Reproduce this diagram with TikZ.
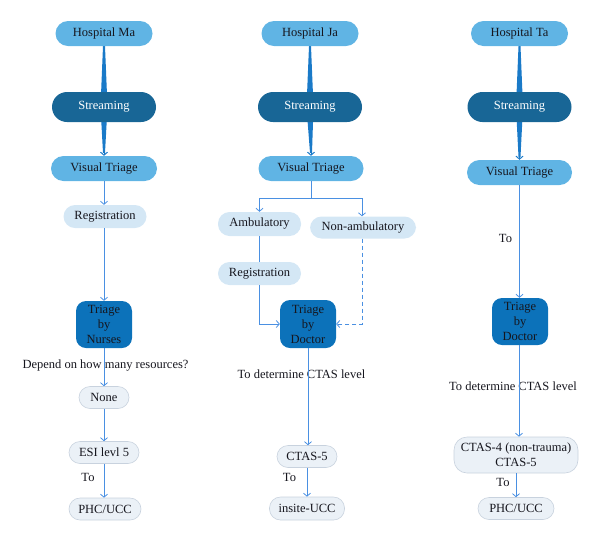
\documentclass[tikz,border=0pt]{standalone}
\usepackage{fontspec}
\setmainfont{Liberation Serif}
\usetikzlibrary{arrows.meta,backgrounds}
\definecolor{cLight}{RGB}{96,180,228}
\definecolor{cDark}{RGB}{24,102,150}
\definecolor{cMid}{RGB}{12,114,186}
\definecolor{cPale}{RGB}{212,231,245}
\definecolor{cGray}{RGB}{235,241,247}
\definecolor{cGrayB}{RGB}{200,210,222}
\definecolor{cLine}{RGB}{74,144,226}
\definecolor{cSp}{RGB}{26,122,200}
\definecolor{cText}{RGB}{22,22,30}
\begin{document}
\begin{tikzpicture}[x=1pt,y=-1pt,
  every node/.style={font=\fontsize{12.5}{16}\selectfont, text=cText},
  pillA/.style={fill=cLight, rounded corners=12.5pt, minimum width=97pt, minimum height=25pt, inner sep=0pt},
  streambox/.style={fill=cDark, text=white, rounded corners=15pt, minimum width=104pt, minimum height=30pt, inner sep=0pt},
  regbox/.style={fill=cPale, rounded corners=11.5pt, minimum height=23pt, inner sep=0pt},
  endbox/.style={fill=cGray, draw=cGrayB, line width=0.6pt, rounded corners=11pt, minimum height=22pt, inner sep=0pt},
  triagebox/.style={fill=cMid, rounded corners=10pt, minimum width=56pt, minimum height=47pt, inner sep=0pt, align=center, font=\fontsize{12.5}{15}\selectfont},
  lbl/.style={inner sep=0pt},
  conn/.style={draw=cLine, line width=0.8pt, -{Straight Barb[length=3pt,width=7pt]}},
  cline/.style={draw=cLine, line width=0.8pt},
  sparrow/.style={draw=cSp, line width=1pt, -{Straight Barb[length=3pt,width=7pt]}}
]
\useasboundingbox (0,0) rectangle (600,542);

% Column 1
\node[pillA] (hma) at (104,33.5) {Hospital Ma};
\node[streambox] (sma) at (104,107) {Streaming};
\node[pillA, minimum width=106pt] (vma) at (104,168.5) {Visual Triage};
\node[regbox, minimum width=83pt] (rma) at (105,216.5) {Registration};
\node[triagebox] (tma) at (104,324.5) {Triage\\by\\Nurses};
\node[lbl] (dep) at (105.5,366) {Depend on how many resources?};
\node[endbox, minimum width=50pt] (none) at (104,397.5) {None};
\node[endbox, minimum width=70pt] (esi) at (104,452.5) {ESI levl 5};
\node[lbl] (to1) at (88,477) {To};
\node[endbox, minimum width=72pt] (phc1) at (105,509) {PHC/UCC};

% Column 2
\node[pillA] (hja) at (310,33.5) {Hospital Ja};
\node[streambox] (sja) at (310,107) {Streaming};
\node[pillA, minimum width=105pt] (vja) at (311,168.5) {Visual Triage};
\node[regbox, minimum width=83pt, minimum height=24pt] (amb) at (259.5,224) {Ambulatory};
\node[regbox, minimum width=106pt, minimum height=22pt] (namb) at (363,227.5) {Non-ambulatory};
\node[regbox, minimum width=83pt] (rja) at (259.5,273.5) {Registration};
\node[triagebox, minimum height=48pt] (tdj) at (308,324) {Triage\\by\\Doctor};
\node[lbl] (det2) at (301.5,374) {To determine CTAS level};
\node[endbox, minimum width=60pt] (c5) at (307,456.5) {CTAS-5};
\node[lbl] (to2) at (289.5,477) {To};
\node[endbox, minimum width=75pt, minimum height=23pt] (ins) at (307,508.5) {insite-UCC};

% Column 3
\node[pillA] (hta) at (519.5,33.5) {Hospital Ta};
\node[streambox] (sta) at (519.5,107) {Streaming};
\node[pillA, minimum width=105pt] (vta) at (519.5,172.5) {Visual Triage};
\node[lbl] (to3a) at (505.5,238) {To};
\node[triagebox] (tdt) at (520,321.5) {Triage\\by\\Doctor};
\node[lbl] (det3) at (513,386) {To determine CTAS level};
\node[endbox, minimum width=124pt, minimum height=36pt, rounded corners=13pt, align=center, font=\fontsize{12.5}{15}\selectfont] (c45) at (516,455) {CTAS-4 (non-trauma)\\CTAS-5};
\node[lbl] (to3b) at (503,482) {To};
\node[endbox, minimum width=76pt] (phc3) at (516,508.5) {PHC/UCC};

% Spindle connectors
\begin{pgfonlayer}{background}
\foreach \h/\s/\v in {hma/sma/vma, hja/sja/vja, hta/sta/vta}{
  \fill[cSp] ([xshift=-1pt]\h.south) -- ([xshift=1pt]\h.south) -- ([xshift=3.5pt]\s.center)
    -- ([xshift=1pt,yshift=3pt]\v.north) -- ([xshift=-1pt,yshift=3pt]\v.north)
    -- ([xshift=-3.5pt]\s.center) -- cycle;
}
\end{pgfonlayer}
\foreach \v in {vma, vja, vta}{
  \draw[sparrow] ([yshift=8pt]\v.north) -- (\v.north);
}

% Column 1 connectors
\draw[conn] (vma.south) -- (vma.south |- rma.north);
\draw[conn] (rma.south -| tma.north) -- (tma.north);
\draw[conn] (tma.south) -- (none.north);
\draw[conn] (none.south) -- (esi.north);
\draw[conn] (esi.south) -- (esi.south |- phc1.north);

% Column 2 connectors
\draw[conn] (vja.south) -- ++(0,17) -| (amb.north);
\draw[conn] (vja.south) -- ++(0,17) -| ([xshift=-1pt]namb.north);
\draw[cline] (amb.south) -- (rja.north);
\draw[conn] (rja.south) |- (tdj.west);
\draw[conn, dashed, dash pattern=on 4pt off 3pt] ([xshift=-1pt]namb.south) |- (tdj.east);
\draw[conn] (tdj.south) -- (tdj.south |- c5.north);
\draw[conn] (c5.south) -- (ins.north);

% Column 3 connectors
\draw[conn] (vta.south) -- (vta.south |- tdt.north);
\draw[conn] ([xshift=-1pt]tdt.south) -- ([xshift=-1pt]tdt.south |- c45.north);
\draw[conn] (c45.south -| phc3.north) -- (phc3.north);
\end{tikzpicture}
\end{document}
